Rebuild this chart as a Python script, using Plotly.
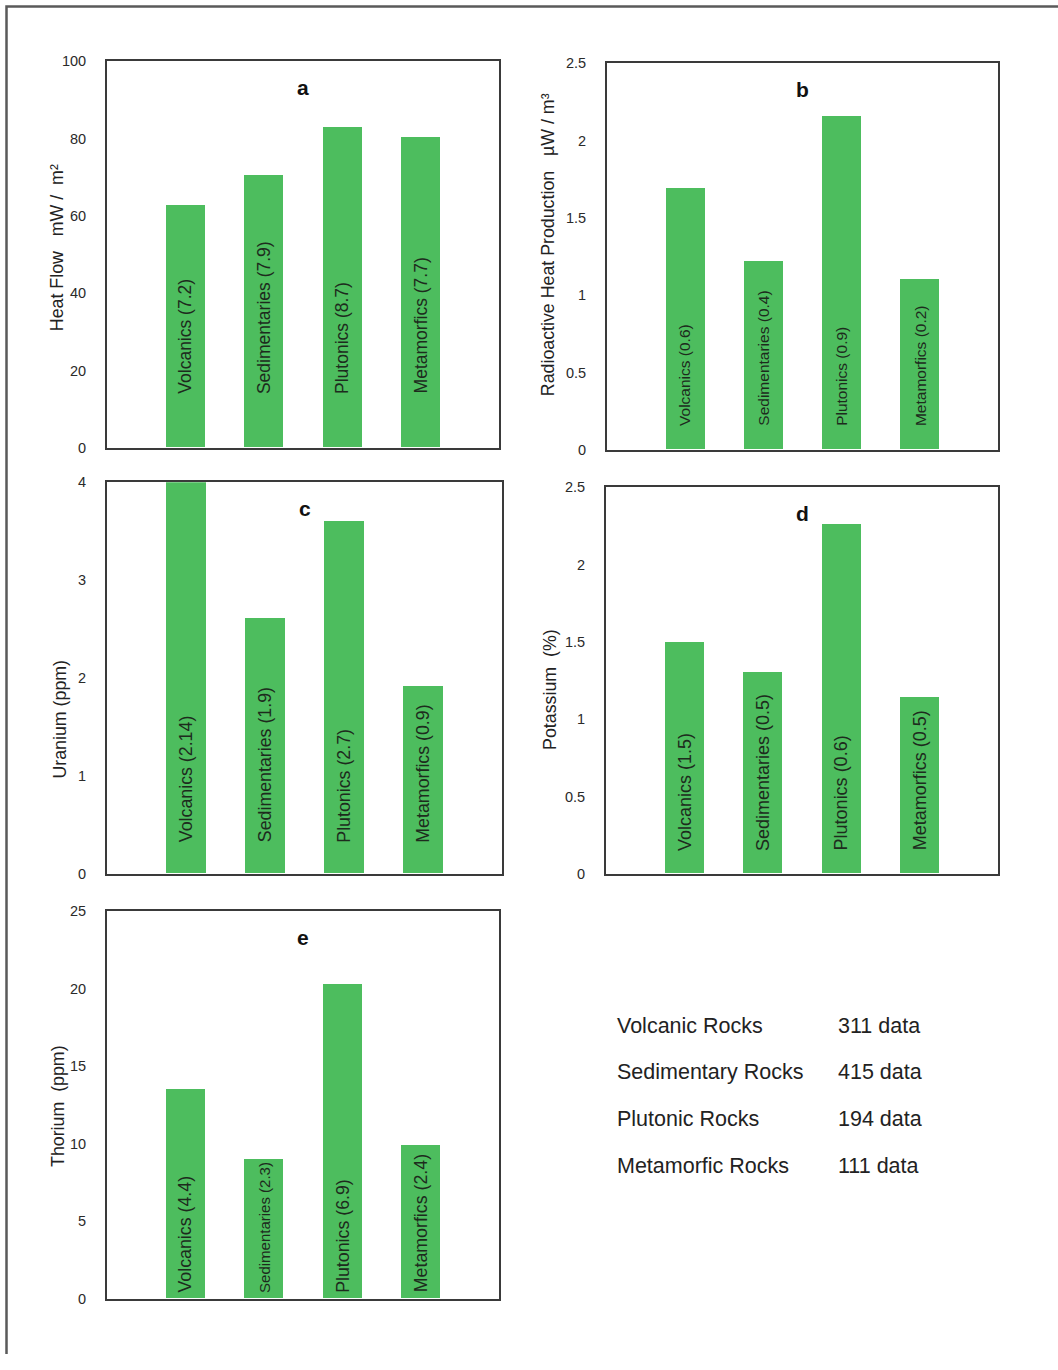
import plotly.graph_objects as go

# Rock groups shown on every panel
rock_groups = ["Volcanics", "Sedimentaries", "Plutonics", "Metamorfics"]

# Mean values per rock group
heat_flow = [62.7, 70.6, 82.9, 80.3]          # mW / m²
heat_production = [1.69, 1.22, 2.16, 1.10]    # µW / m³
uranium = [4.0, 2.61, 3.60, 1.91]             # ppm
potassium = [1.50, 1.30, 2.26, 1.14]          # %
thorium = [13.5, 9.0, 20.3, 9.9]              # ppm

# Standard deviations printed inside the bars
heat_flow_sd = ["7.2", "7.9", "8.7", "7.7"]
heat_production_sd = ["0.6", "0.4", "0.9", "0.2"]
uranium_sd = ["2.14", "1.9", "2.7", "0.9"]
potassium_sd = ["1.5", "0.5", "0.6", "0.5"]
thorium_sd = ["4.4", "2.3", "6.9", "2.4"]

# Number of samples per rock type
sample_labels = ["Volcanic Rocks", "Sedimentary Rocks", "Plutonic Rocks", "Metamorfic Rocks"]
sample_counts = [311, 415, 194, 111]

# The page body keeps an 8px margin above the figure
PAGE_W, PAGE_H, BODY_MARGIN = 1058, 1370, 8
W, H = PAGE_W, PAGE_H - BODY_MARGIN
FONT = "Liberation Sans, Arial, sans-serif"
BAR_COLOR = "#4dbd5e"
FRAME = "#3a3a3a"


def px_x(v):
    return v / W


def px_y(v):
    # page pixel row -> paper fraction
    return 1 - (v - BODY_MARGIN) / H


panels = [
    # letter, values, sds, axis title, y range, dtick, box (left, top, right, bottom),
    # title centre (x, y), label gap, label size
    dict(letter="a", values=heat_flow, sds=heat_flow_sd,
         title="Heat Flow\u00a0\u00a0\u00a0mW\u00a0/\u00a0\u00a0m²", yr=[0, 100], dt=20,
         box=(107, 62, 499, 453), tpos=(57, 251), gap=52, fs=17.5),
    dict(letter="b", values=heat_production, sds=heat_production_sd,
         title="Radioactive Heat Production\u00a0\u00a0\u00a0µW / m³", yr=[0, 2.5], dt=0.5,
         box=(607, 64, 998, 455), tpos=(548, 248), gap=22, fs=15.5),
    dict(letter="c", values=uranium, sds=uranium_sd,
         title="Uranium (ppm)", yr=[0, 4], dt=1,
         box=(107, 488, 502, 884), tpos=(60, 728), gap=29, fs=17.8),
    dict(letter="d", values=potassium, sds=potassium_sd,
         title="Potassium\u00a0\u00a0(%)", yr=[0, 2.5], dt=0.5,
         box=(606, 493, 998, 884), tpos=(550, 698), gap=21, fs=18),
    dict(letter="e", values=thorium, sds=thorium_sd,
         title="Thorium\u00a0\u00a0(ppm)", yr=[0, 25], dt=5,
         box=(107, 922, 499, 1314), tpos=(58, 1119), gap=4, fs=17.8),
]

fig = go.Figure()
annotations = []
layout_axes = {}

for i, p in enumerate(panels, start=1):
    xa = "x" if i == 1 else f"x{i}"
    ya = "y" if i == 1 else f"y{i}"
    fig.add_trace(go.Bar(
        x=rock_groups, y=p["values"], xaxis=xa, yaxis=ya,
        width=0.5, marker=dict(color=BAR_COLOR, line=dict(width=0)),
        showlegend=False, hoverinfo="skip",
    ))
    l, t, r, b = p["box"]
    axis_common = dict(showline=True, mirror=True, linecolor=FRAME, linewidth=2,
                       showgrid=False, zeroline=False)
    layout_axes["xaxis" if i == 1 else f"xaxis{i}"] = dict(
        domain=[px_x(l), px_x(r)], anchor=ya, type="category",
        range=[-1, 4], showticklabels=False, ticks="", **axis_common)
    layout_axes["yaxis" if i == 1 else f"yaxis{i}"] = dict(
        domain=[px_y(b), px_y(t)], anchor=xa, range=p["yr"], dtick=p["dt"],
        ticks="", ticklabelstandoff=16,
        tickfont=dict(family=FONT, size=14.5, color="#2a2a2a"), **axis_common)

    # panel letter
    annotations.append(dict(
        text=f"<b>{p['letter']}</b>", xref=f"{xa} domain", yref=f"{ya} domain",
        x=0.5, y=1, yshift=-26, xanchor="center", yanchor="middle",
        showarrow=False, font=dict(family=FONT, size=21, color="#111111")))

    # axis title
    annotations.append(dict(
        text=p["title"], xref="paper", yref="paper",
        x=px_x(p["tpos"][0]), y=px_y(p["tpos"][1]), textangle=-90,
        xanchor="center", yanchor="middle", showarrow=False,
        font=dict(family=FONT, size=17.8, color="#222222")))

    # rotated labels inside the bars
    for name, sd in zip(rock_groups, p["sds"]):
        fs = p["fs"]
        if p["letter"] == "e" and name == "Sedimentaries":
            fs = 15
        annotations.append(dict(
            text=f"{name} ({sd})", xref=xa, yref=ya, x=name, y=0,
            yanchor="bottom", xanchor="center", yshift=p["gap"], textangle=-90,
            showarrow=False, font=dict(family=FONT, size=fs, color="#1d2b1d")))

# sample count table
row_y = [1038, 1085, 1132, 1180]
for label, count, yy in zip(sample_labels, sample_counts, row_y):
    annotations.append(dict(
        text=label, xref="paper", yref="paper", x=px_x(615), y=px_y(yy),
        xanchor="left", yanchor="middle", showarrow=False,
        font=dict(family=FONT, size=21.5, color="#222222")))
    annotations.append(dict(
        text=f"{count} data", xref="paper", yref="paper", x=px_x(836), y=px_y(yy),
        xanchor="left", yanchor="middle", showarrow=False,
        font=dict(family=FONT, size=21.5, color="#222222")))

# outer frame (left and top edges)
shapes = [dict(
    type="path", xref="paper", yref="paper",
    path=f"M {px_x(6.5)},0 L {px_x(6.5)},{px_y(6.5)} L 1,{px_y(6.5)}",
    line=dict(color="#5a5a5a", width=2.5))]

fig.update_layout(
    width=W, height=H, margin=dict(l=0, r=0, t=0, b=0),
    paper_bgcolor="white", plot_bgcolor="white",
    annotations=annotations, shapes=shapes, bargap=0,
    **layout_axes,
)

fig.write_html("out.html")
